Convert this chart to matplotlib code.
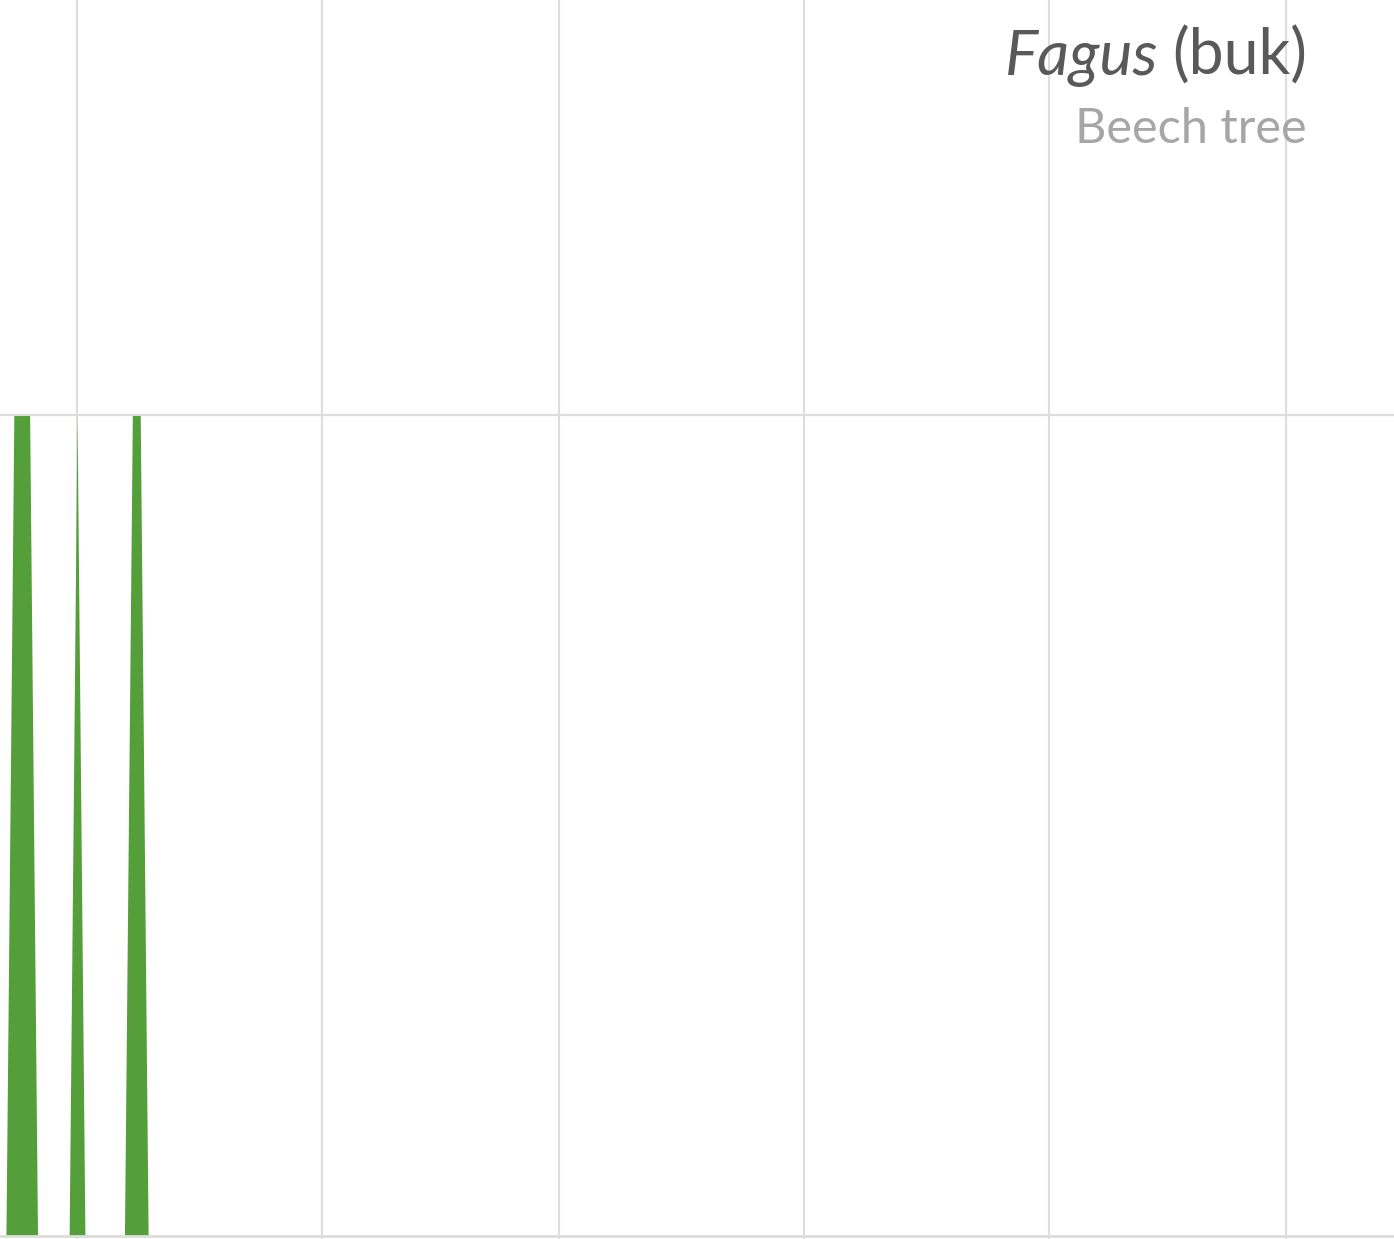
import matplotlib.pyplot as plt
import numpy as np

# day of year (non-leap), pollen level clipped to the chart cap (1.0)
days = np.arange(112, 288)
level = np.zeros(len(days))
high_days = [113, 114, 115, 121, 128, 129]
for d in high_days:
    level[days == d] = 1.0

# month starts: May 1 .. Oct 1
month_starts = [121, 152, 182, 213, 244, 274]

green = '#559f3b'
grid_c = '#dddddd'

fig = plt.figure(figsize=(13.94, 12.39), dpi=100)
ax = fig.add_axes([0, 3 / 1239, 1, 1 - 3 / 1239])
ax.set_xlim(111.25, 287.7)
ax.set_ylim(0, 1.506)

for m in month_starts:
    ax.axvline(m, color=grid_c, lw=1.5, zorder=1)
ax.axhline(1.0, color=grid_c, lw=1.5, zorder=1)
ax.axhline(0.0, color=grid_c, lw=2, zorder=3, clip_on=False)

ax.fill_between(days, 0, level, color=green, lw=0, zorder=2)
ax.axhline(1.0, color=grid_c, lw=1.5, zorder=2.5)

for s in ax.spines.values():
    s.set_visible(False)
ax.set_xticks(month_starts)
ax.set_xticklabels([])
ax.set_yticks([])
ax.tick_params(axis='x', length=3, width=1.5, color=grid_c)

fs1 = 45
fs2 = 35
r = fig.canvas.get_renderer()
t1 = fig.text(1307 / 1394, 1 - 75 / 1239, '(buk)', ha='right', va='baseline',
              fontsize=fs1, color='#595959', family='Lato')
bb = t1.get_window_extent(renderer=r)
fig.text((bb.x0 - 14) / 1394, 1 - 75 / 1239, 'Fagus', ha='right', va='baseline',
         fontsize=fs1, color='#595959', family='Lato', style='italic')
fig.text(1307 / 1394, 1 - 143 / 1239, 'Beech tree', ha='right', va='baseline',
         fontsize=fs2, color='#a6a6a6', family='Lato')

fig.savefig('out.png', dpi=100)
